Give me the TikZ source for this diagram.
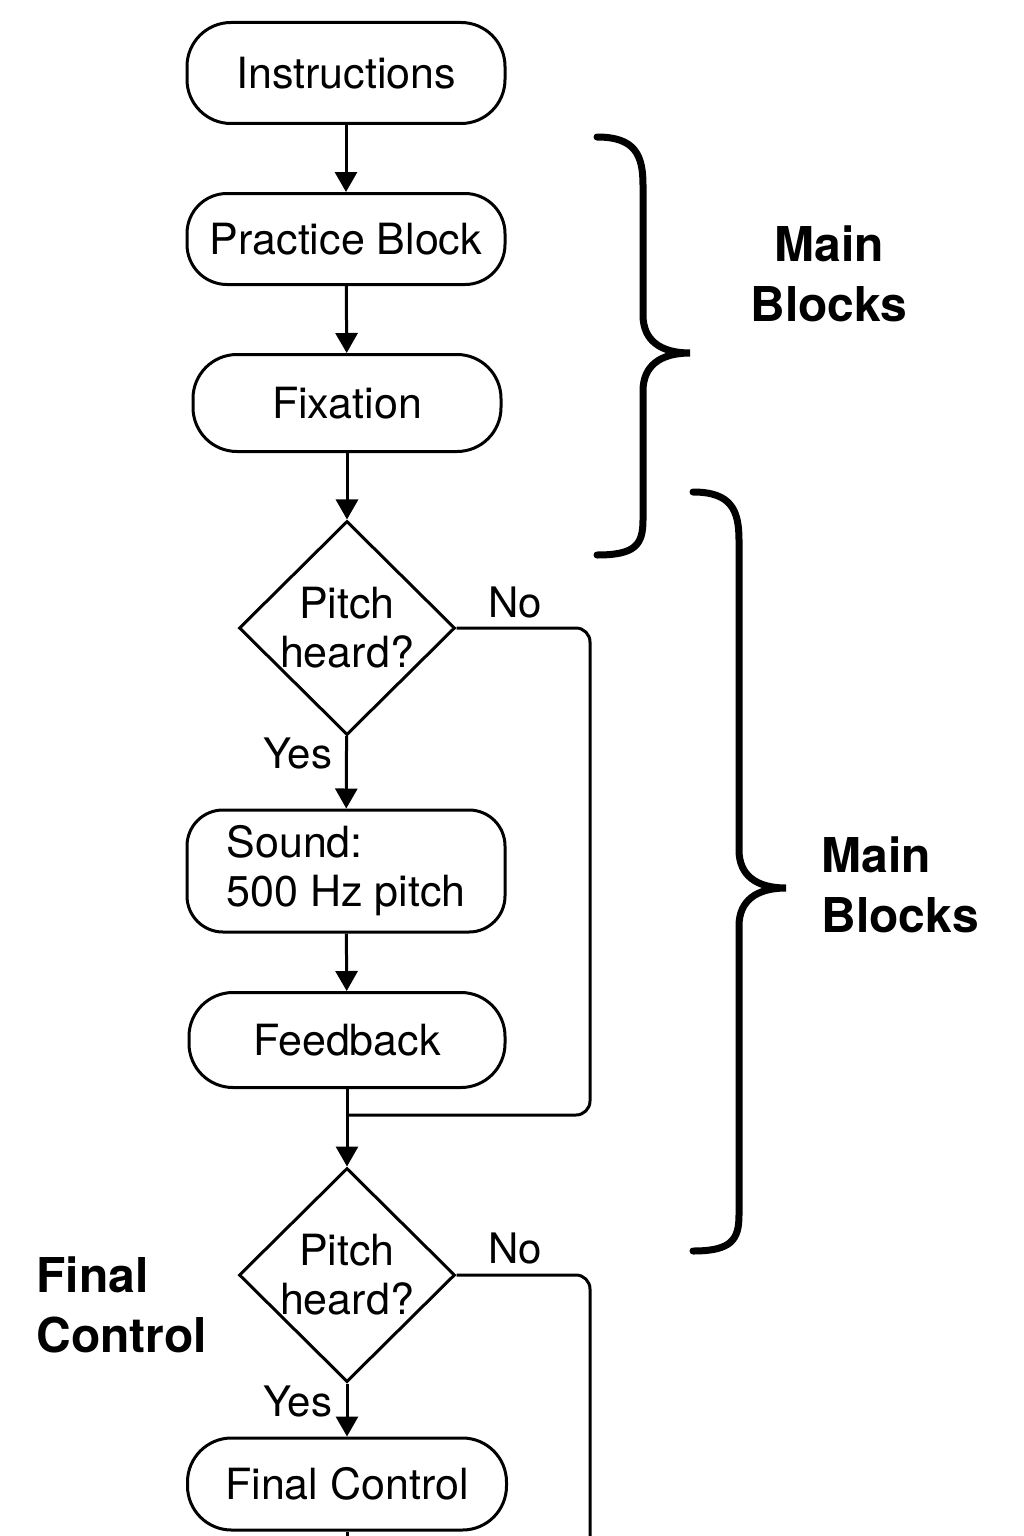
\documentclass[tikz,border=0pt]{standalone}
\usepackage{fontspec}
\setmainfont{TeX Gyre Heros}
\usetikzlibrary{shapes.geometric,arrows.meta}
\begin{document}
\begin{tikzpicture}[x=1pt,y=-1pt,
  base/.style={draw,line width=3pt,inner sep=0pt,font=\fontsize{43}{49}\selectfont},
  stadium/.style={base,rounded corners=44pt,minimum width=318pt},
  rbox/.style={base,rounded corners=36pt,minimum width=318pt},
  decision/.style={base,diamond,minimum width=216pt,minimum height=214pt,inner sep=-8pt,align=center},
  conn/.style={line width=3pt},
  arr/.style={conn,-{Triangle[length=20pt,width=22pt]}},
  lbl/.style={font=\fontsize{42}{48}\selectfont},
  head/.style={font=\fontsize{48}{60}\selectfont\bfseries},
  brace/.style={line width=7pt,line cap=round}]
\useasboundingbox (0,0) rectangle (1024,1536);
\fill[white] (0,0) rectangle (1024,1536);

\node[stadium,minimum height=101pt] (instr) at (346,73) {Instructions};
\node[rbox,minimum height=91pt,rounded corners=40pt] (prac) at (346,239) {Practice Block};
\node[stadium,minimum height=97pt,minimum width=308pt] (fix) at (347,403) {Fixation};
\node[decision] (d1) at (347,628) {Pitch\\heard?};
\node[rbox,minimum height=122pt,align=left] (sound) at (346,871) {Sound:\\500 Hz pitch};
\node[stadium,minimum height=95pt,minimum width=316pt] (fb) at (347,1040) {Feedback};
\node[decision] (d2) at (347,1275) {Pitch\\heard?};
\node[stadium,minimum height=92pt,minimum width=319pt] (final) at (347,1484) {Final Control};

\coordinate (j1) at (347,1115);
\coordinate (c1) at (590,628);
\coordinate (c2) at (590,1115);
\coordinate (c3) at (590,1275);
\coordinate (e2) at (590,1540);
\coordinate (e3) at (347,1540);

\draw[arr] (instr) -- (prac);
\draw[arr] (prac) -- (fix);
\draw[arr] (fix) -- (d1);
\draw[arr] (d1) -- (sound);
\draw[arr] (sound) -- (fb);
\draw[arr] (fb) -- (d2);
\draw[arr] (d2) -- (final);
\draw[conn] (final) -- (e3);
\draw[conn,rounded corners=14pt] (d1.east) -- (c1) -- (c2) -- (j1);
\draw[conn,rounded corners=14pt] (d2.east) -- (c3) -- (e2);

\node[lbl] (no1) at (515,602) {No};
\node[lbl] (yes1) at (298,753) {Yes};
\node[lbl] (no2) at (515,1248) {No};
\node[lbl] (yes2) at (298,1401) {Yes};

\draw[brace] (597,137) .. controls (635,137) and (643,155) .. (643,185) -- (643,315)
  .. controls (643,340) and (660,353) .. (690,353)
  .. controls (660,353) and (643,366) .. (643,391) -- (643,520)
  .. controls (643,545) and (635,555) .. (597,555);
\draw[brace] (693,492) .. controls (731,492) and (739,510) .. (739,540) -- (739,850)
  .. controls (739,875) and (756,888) .. (786,888)
  .. controls (756,888) and (739,901) .. (739,926) -- (739,1215)
  .. controls (739,1240) and (731,1251) .. (693,1251);

\node[head,align=center] (mb1) at (829,274) {Main\\Blocks};
\node[head,align=left,anchor=west] (mb2) at (818,885) {Main\\Blocks};
\node[head,align=left,anchor=west] (fc) at (33,1305) {Final\\Control};
\end{tikzpicture}
\end{document}
